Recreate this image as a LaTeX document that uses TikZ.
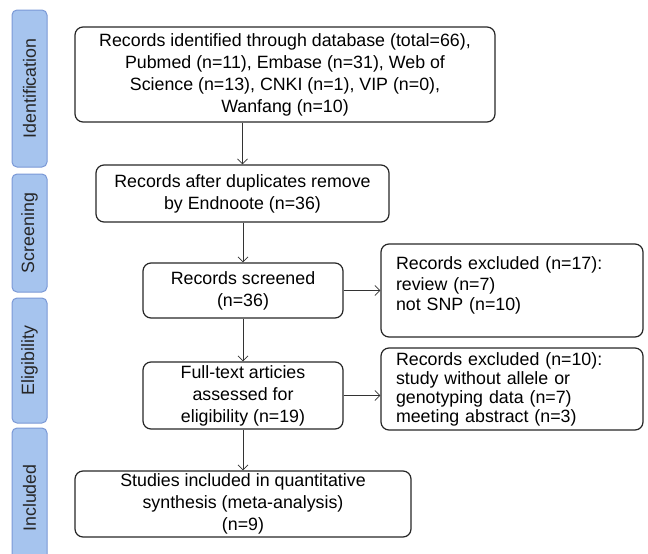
\documentclass[tikz,border=0pt]{standalone}
\usepackage{fontspec}
\setmainfont{Liberation Sans}
\usetikzlibrary{arrows.meta}
\definecolor{stagefill}{RGB}{166,196,238}
\definecolor{stageline}{RGB}{122,152,214}

\begin{document}
\begin{tikzpicture}[x=1pt, y=-1pt,
    font=\fontsize{17.8}{22}\selectfont,
    stage/.style={draw=stageline, fill=stagefill, line width=1pt, rounded corners=5pt,
      rotate=90, minimum height=35pt, inner sep=0pt, text=black!85},
    flowbox/.style={draw=black!85, line width=1.2pt, rounded corners=8pt, align=center, inner sep=0pt},
    exclbox/.style={flowbox, align=left, text width=232pt, inner xsep=15pt, minimum width=262pt},
    link/.style={-{Straight Barb[length=5pt,width=10pt]}, line width=0.8pt, draw=black!80}]
  \useasboundingbox (0,0) rectangle (648,554);

  % Stages on the left
  \node[stage, minimum width=157pt] (identstage) at (29.5,88.5) {Identification};
  \node[stage, minimum width=118pt] (screenstage) at (29.5,233) {Screening};
  \node[stage, minimum width=125pt] (eligstage) at (29.5,360.5) {Eligibility};
  \node[stage, minimum width=140pt] (inclstage) at (29.5,498) {Included};

  % Main flow
  \node[flowbox, minimum width=420pt, minimum height=95pt] (records) at (285,74.5)
    {Records identified through database (total=66),\\
     Pubmed (n=11), Embase (n=31), Web of\\
     Science (n=13), CNKI (n=1), VIP (n=0),\\
     Wanfang (n=10)};
  \node[flowbox, minimum width=293pt, minimum height=57pt] (duplicates) at (242.5,193.5)
    {Records after duplicates remove\\by Endnoote (n=36)};
  \node[flowbox, minimum width=200pt, minimum height=55pt] (screened) at (243,290.5)
    {Records screened\\(n=36)};
  \node[flowbox, minimum width=200pt, minimum height=67pt] (fulltext) at (243,395.5)
    {Full-text articies\\assessed for\\eligibility (n=19)};
  \node[flowbox, minimum width=336pt, minimum height=66pt] (synthesis) at (243,504)
    {Studies included in quantitative\\synthesis (meta-analysis)\\(n=9)};

  % Exclusions
  \node[exclbox, minimum height=93pt, text depth=54pt, font=\fontsize{17.8}{20.5}\selectfont] (excludedA) at (512,290.5)
    {Records excluded (n=17):\\review (n=7)\\not SNP (n=10)};
  \node[exclbox, minimum height=82pt, font=\fontsize{17.8}{19}\selectfont] (excludedB) at (512,389)
    {Records excluded (n=10):\\study without allele or\\genotyping data (n=7)\\meeting abstract (n=3)};

  % Arrows
  \draw[link] (duplicates.north |- records.south) -- (duplicates.north);
  \draw[link] (screened.north |- duplicates.south) -- (screened.north);
  \draw[link] (screened.east) -- (excludedA.west);
  \draw[link] (screened.south) -- (fulltext.north);
  \draw[link] (fulltext.east) -- (fulltext.east -| excludedB.west);
  \draw[link] (fulltext.south) -- (synthesis.north);
\end{tikzpicture}
\end{document}
